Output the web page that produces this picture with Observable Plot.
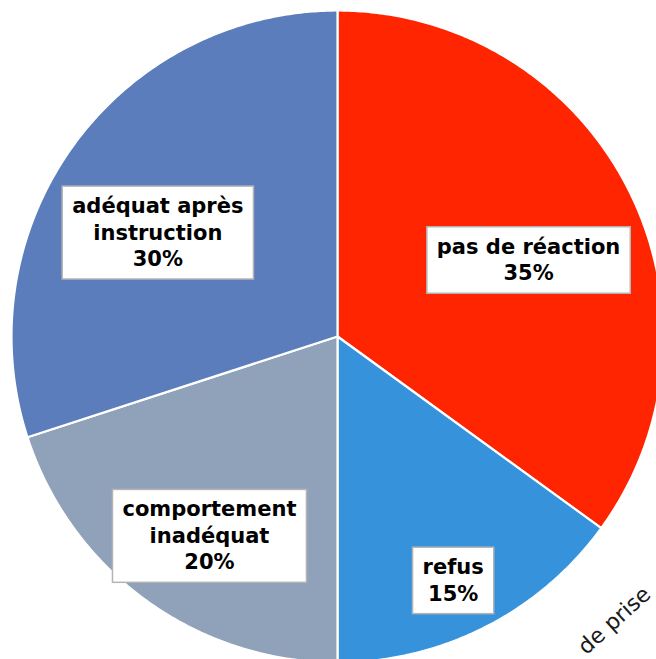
<!DOCTYPE html>
<html><head><meta charset="utf-8">
<script src="https://cdn.jsdelivr.net/npm/d3@7"></script>
<script src="https://cdn.jsdelivr.net/npm/@observablehq/plot@0.6"></script>
<style>html,body{margin:0;padding:0;background:#fff;} #chart{width:656px;height:659px;overflow:hidden;}</style>
</head><body><div id="chart"></div>
<script>
// ---- data ----
const categories = ["pas de réaction", "refus", "comportement inadéquat", "adéquat après instruction"];
const labelLines = ["pas de réaction", "refus", "comportement\ninadéquat", "adéquat après\ninstruction"];
const percents = [35, 15, 20, 30];
const sideNote = ["de prise"];

// ---- styles / layout ----
const colors = ["#FF2500", "#3592DB", "#8FA2B9", "#5B7DBB"];
const labelRadius = [0.633, 0.824, 0.723, 0.639];
const labelAngleShift = [4.8, 1.5, -3.1, -5.6];
const W = 656, H = 659;
const cx = 337, cy = 336, R = 326;

// ---- geometry from data ----
const total = d3.sum(percents);
let acc = 0;
const slicePts = [];
const labels = [];
percents.forEach((v, i) => {
  const a0 = acc / total * 360, a1 = (acc + v) / total * 360;
  acc += v;
  slicePts.push({cat: categories[i], x: 0, y: 0});
  const n = Math.ceil((a1 - a0) * 2);
  for (let k = 0; k <= n; k++) {
    const a = (a0 + (a1 - a0) * k / n) * Math.PI / 180;
    slicePts.push({cat: categories[i], x: Math.sin(a), y: Math.cos(a)});
  }
  slicePts.push({cat: categories[i], x: 0, y: 0});
  const am = ((a0 + a1) / 2 + labelAngleShift[i]) * Math.PI / 180;
  labels.push({x: labelRadius[i] * Math.sin(am), y: labelRadius[i] * Math.cos(am), text: labelLines[i] + "\n" + v + "%"});
});

const chart = Plot.plot({
  width: W, height: H, margin: 0,
  x: {domain: [-cx / R, (W - cx) / R], axis: null},
  y: {domain: [-(H - cy) / R, cy / R], axis: null},
  color: {domain: categories, range: colors},
  style: {background: "white"},
  marks: [
    Plot.line(slicePts, {x: "x", y: "y", z: "cat", fill: "cat", stroke: "white", strokeWidth: 2.2, strokeLinejoin: "round"}),
    Plot.text(sideNote, {frameAnchor: "bottom-right", dx: -42, dy: -39, rotate: -42, text: d => d, fontSize: 22, fill: "#1a1a1a", fontFamily: "DejaVu Sans", textAnchor: "middle", lineAnchor: "middle"}),
    Plot.text(labels, {x: "x", y: "y", text: "text", fontSize: 21, fontWeight: "bold", fontFamily: "DejaVu Sans", fill: "black", lineHeight: 1.26, lineAnchor: "middle", textAnchor: "middle", ariaLabel: () => "slice-label"})
  ]
});
document.getElementById("chart").append(chart);

// white label boxes behind the texts, sized from the rendered text
const ns = "http://www.w3.org/2000/svg";
chart.querySelectorAll('text[aria-label="slice-label"]').forEach(t => {
  const b = t.getBBox();
  const r = document.createElementNS(ns, "rect");
  r.setAttribute("x", b.x - 10);
  r.setAttribute("y", b.y - 8);
  r.setAttribute("width", b.width + 20);
  r.setAttribute("height", b.height + 16);
  r.setAttribute("fill", "white");
  r.setAttribute("stroke", "#b4b4b4");
  r.setAttribute("stroke-width", 1.5);
  if (t.getAttribute("transform")) r.setAttribute("transform", t.getAttribute("transform"));
  t.parentNode.insertBefore(r, t);
});
</script>
</body></html>
